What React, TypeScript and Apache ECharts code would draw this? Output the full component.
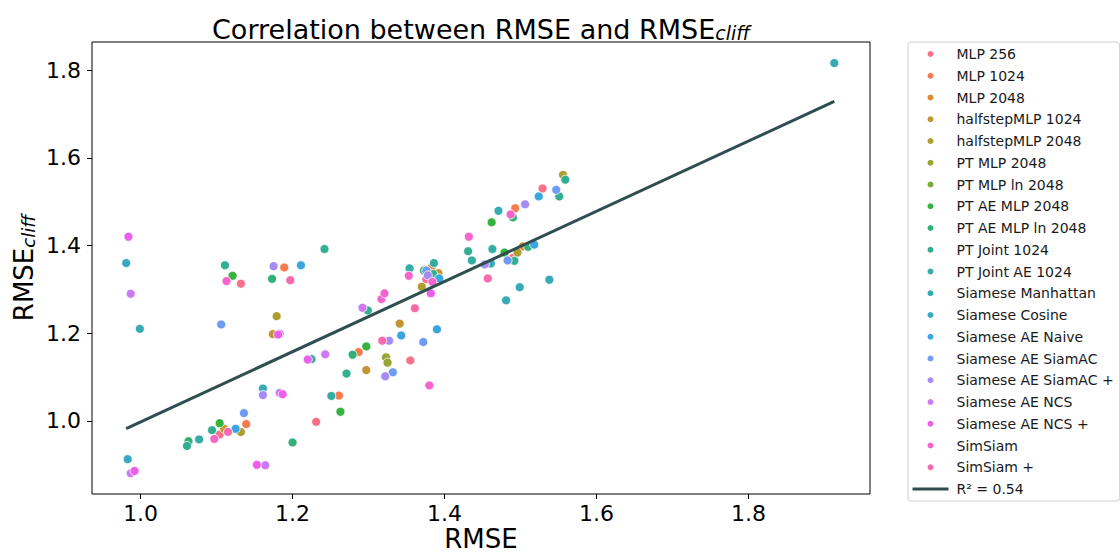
import React, { useEffect, useRef } from "react";
import * as echarts from "echarts";

const categories = [
  "MLP 256", "MLP 1024", "MLP 2048", "halfstepMLP 1024", "halfstepMLP 2048",
  "PT MLP 2048", "PT MLP ln 2048", "PT AE MLP 2048", "PT AE MLP ln 2048",
  "PT Joint 1024", "PT Joint AE 1024", "Siamese Manhattan", "Siamese Cosine",
  "Siamese AE Naive", "Siamese AE SiamAC", "Siamese AE SiamAC +",
  "Siamese AE NCS", "Siamese AE NCS +", "SimSiam", "SimSiam +",
];

const palette = [
  "#f77189", "#f47a50", "#dc8932", "#c29531", "#ae9d31", "#97a431", "#77ab31",
  "#36b23f", "#33b07a", "#34ae91", "#36ada4", "#37abb4", "#38a9c5", "#3aa5df",
  "#6e9bf4", "#a48cf4", "#cc7af4", "#ec5fec", "#f565cc", "#f66bab",
];

// [RMSE, RMSE_cliff] per method
const mlp256 = [[1.132, 1.313], [1.231, 0.998], [1.104, 0.969], [1.376, 1.323], [1.355, 1.138], [1.529, 1.530], [1.490, 1.372]];
const mlp1024 = [[1.189, 1.350], [1.287, 1.157], [1.261, 1.058], [1.139, 0.993], [1.493, 1.485]];
const mlp2048 = [[1.383, 1.350], [1.503, 1.398]];
const half1024 = [[1.174, 1.198], [1.297, 1.116], [1.110, 0.982], [1.341, 1.222], [1.392, 1.337]];
const half2048 = [[1.179, 1.239], [1.132, 0.975], [1.370, 1.306], [1.496, 1.384], [1.556, 1.561]];
const ptMlp2048 = [[1.323, 1.145], [1.325, 1.133]];
const ptMlpLn2048 = [[1.374, 1.345]];
const ptAeMlp2048 = [[1.121, 1.331], [1.297, 1.170], [1.263, 1.021], [1.104, 0.995], [1.462, 1.453], [1.479, 1.384]];
const ptAeMlpLn2048 = [[1.173, 1.324], [1.279, 1.151], [1.200, 0.951], [1.373, 1.343], [1.490, 1.464], [1.510, 1.397], [1.063, 0.954]];
const ptJoint1024 = [[1.111, 1.355], [1.242, 1.392], [1.299, 1.252], [1.271, 1.108], [1.094, 0.979], [1.061, 0.943], [1.431, 1.387], [1.492, 1.365], [1.385, 1.335], [1.559, 1.550], [1.551, 1.512]];
const ptJointAe1024 = [[1.225, 1.141], [1.251, 1.057], [1.077, 0.958], [1.436, 1.366], [1.463, 1.392], [1.354, 1.348], [1.386, 1.360]];
const siamManhattan = [[0.999, 1.210], [1.161, 1.074], [1.461, 1.359], [1.499, 1.305], [1.481, 1.275], [1.538, 1.322], [1.471, 1.479], [1.913, 1.816]];
const siamCosine = [[0.981, 1.360], [0.983, 0.913]];
const siamAeNaive = [[1.211, 1.355], [1.125, 0.982], [1.393, 1.325], [1.343, 1.195], [1.390, 1.209], [1.524, 1.512], [1.518, 1.402]];
const siamAeSiamAC = [[1.106, 1.220], [1.136, 1.018], [1.376, 1.343], [1.372, 1.180], [1.332, 1.111], [1.483, 1.366], [1.547, 1.527]];
const siamAeSiamACp = [[1.175, 1.353], [1.327, 1.183], [1.322, 1.102], [1.161, 1.059], [1.453, 1.357], [1.378, 1.332], [1.506, 1.494]];
const siamAeNcs = [[0.987, 1.290], [1.183, 1.199], [1.292, 1.258], [1.243, 1.152], [1.183, 1.064], [0.987, 0.881], [1.164, 0.899]];
const siamAeNcsP = [[0.984, 1.420], [1.181, 1.197], [1.220, 1.140], [1.187, 1.061], [0.992, 0.886], [1.153, 0.900], [1.382, 1.291]];
const simSiam = [[1.113, 1.319], [1.317, 1.278], [1.321, 1.291], [1.097, 0.959], [1.432, 1.420], [1.353, 1.331], [1.384, 1.317], [1.380, 1.081], [1.487, 1.471]];
const simSiamP = [[1.197, 1.321], [1.115, 0.975], [1.318, 1.183], [1.457, 1.325], [1.361, 1.257]];

const points = [
  mlp256, mlp1024, mlp2048, half1024, half2048, ptMlp2048, ptMlpLn2048,
  ptAeMlp2048, ptAeMlpLn2048, ptJoint1024, ptJointAe1024, siamManhattan,
  siamCosine, siamAeNaive, siamAeSiamAC, siamAeSiamACp, siamAeNcs, siamAeNcsP,
  simSiam, simSiamP,
];

// regression fit
const fitSlope = 0.8;
const fitIntercept = 0.198;
const fitLabel = "R² = 0.54";

const xTicks = [1.0, 1.2, 1.4, 1.6, 1.8];
const yTicks = [1.0, 1.2, 1.4, 1.6, 1.8];

const FONT = "DejaVu Sans";

export default function App() {
  const ref = useRef<HTMLDivElement>(null);
  useEffect(() => {
    if (!ref.current) return;
    const chart = echarts.init(ref.current, null, { renderer: "svg" });
    const allX = points.flat().map((p) => p[0]);
    const xMin = Math.min(...allX);
    const xMax = Math.max(...allX);
    const scatterSeries = categories.map((name, i) => ({
      name,
      type: "scatter",
      data: points[i],
      symbol: "circle",
      symbolSize: 9,
      itemStyle: { color: palette[i], borderColor: "#ffffff", borderWidth: 0.8, opacity: 1 },
      z: 2,
    }));
    const option: any = {
      animation: false,
      backgroundColor: "#ffffff",
      textStyle: { fontFamily: FONT },
      grid: {
        left: 92, top: 42, width: 778, height: 452,
        show: true, borderColor: "#000", borderWidth: 1, backgroundColor: "transparent",
      },
      xAxis: {
        type: "value", min: 0.936, max: 1.96,
        axisLine: { show: false },
        splitLine: { show: false },
        axisTick: { show: true, inside: false, length: 5, lineStyle: { color: "#000" }, customValues: xTicks },
        axisLabel: {
          customValues: xTicks, formatter: (v: number) => v.toFixed(1),
          fontSize: 22, color: "#000", fontFamily: FONT, margin: 8,
        },
      },
      yAxis: {
        type: "value", min: 0.8335, max: 1.864,
        axisLine: { show: false },
        splitLine: { show: false },
        axisTick: { show: true, inside: false, length: 5, lineStyle: { color: "#000" }, customValues: yTicks },
        axisLabel: {
          customValues: yTicks, formatter: (v: number) => v.toFixed(1),
          fontSize: 22, color: "#000", fontFamily: FONT, margin: 11,
        },
      },
      legend: {
        orient: "vertical",
        left: 908, top: 42,
        padding: [4, 6, 4, 3],
        itemWidth: 36, itemHeight: 8, itemGap: 5.75,
        borderColor: "#d0d0d0", borderWidth: 1, borderRadius: 3,
        backgroundColor: "#fff",
        textStyle: { fontSize: 14, lineHeight: 16, color: "#1a1a1a", fontFamily: FONT, padding: [0, 0, 0, 3] },
        data: [
          ...categories.map((name) => ({ name, icon: "circle" })),
          { name: fitLabel, itemStyle: { opacity: 0 }, lineStyle: { width: 3, color: "#2f4f4f" } },
        ],
      },
      graphic: [
        {
          type: "text", x: 481, y: 27,
          style: {
            text: "{a|Correlation between RMSE and RMSE}{b|cliff}",
            align: "center", verticalAlign: "middle",
            rich: {
              a: { fontSize: 27, fontFamily: FONT, fill: "#000", lineHeight: 31, verticalAlign: "bottom" },
              b: { fontSize: 19, fontFamily: FONT, fontStyle: "italic", fill: "#000", lineHeight: 19, verticalAlign: "bottom" },
            },
          },
        },
        {
          type: "text", x: 481, y: 539,
          style: { text: "RMSE", fontSize: 26, fontFamily: FONT, fill: "#000", align: "center", verticalAlign: "middle" },
        },
        {
          type: "text", x: 22, y: 268, rotation: Math.PI / 2,
          style: {
            text: "{a|RMSE}{b|cliff}",
            align: "center", verticalAlign: "middle",
            rich: {
              a: { fontSize: 26, fontFamily: FONT, fill: "#000", lineHeight: 30, verticalAlign: "bottom" },
              b: { fontSize: 18, fontFamily: FONT, fontStyle: "italic", fill: "#000", lineHeight: 18, verticalAlign: "bottom" },
            },
          },
        },
      ],
      series: [
        ...scatterSeries,
        {
          name: fitLabel,
          type: "line",
          data: [[xMin, fitIntercept + fitSlope * xMin], [xMax, fitIntercept + fitSlope * xMax]],
          symbol: "none",
          lineStyle: { color: "#2f4f4f", width: 3 },
          itemStyle: { color: "#2f4f4f" },
          z: 5,
        },
      ],
    };
    chart.setOption(option);
    return () => chart.dispose();
  }, []);
  return (
    <div
      ref={ref}
      style={{ position: "fixed", left: 0, top: 0, width: 1120, height: 555, background: "#fff" }}
    />
  );
}
